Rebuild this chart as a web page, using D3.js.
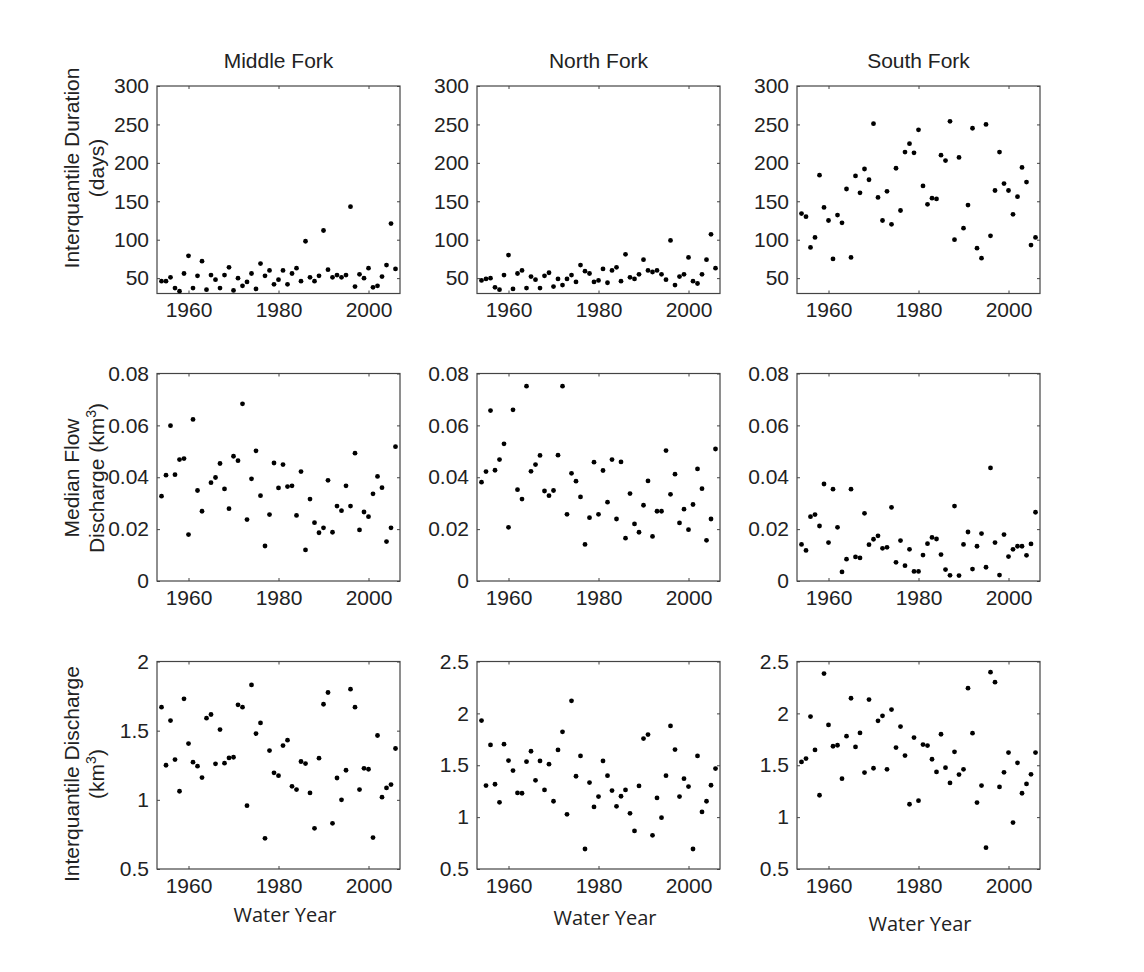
<!DOCTYPE html>
<html>
<head>
<meta charset="utf-8">
<script src="https://cdn.jsdelivr.net/npm/d3@7"></script>
<style>
  body { margin: 0; background: #fff; }
  text { font-family: "Liberation Sans", Arial, sans-serif; fill: #222; }
</style>
</head>
<body>
<script>
 // water years (x categories)
 const years = [1954,1955,1956,1957,1958,1959,1960,1961,1962,1963,
                1964,1965,1966,1967,1968,1969,1970,1971,1972,1973,
                1974,1975,1976,1977,1978,1979,1980,1981,1982,1983,
                1984,1985,1986,1987,1988,1989,1990,1991,1992,1993,
                1994,1995,1996,1997,1998,1999,2000,2001,2002,2003,
                2004,2005,2006];

 // interquantile duration (days)
 const mfDuration = [46,46,51,37,33,56,79,37,53,72, 35,54,48,37,54,64,34,50,40,45,
                     56,36,69,53,60,42,48,60,42,56, 63,46,98,51,46,53,112,61,51,54,
                     51,54,143,39,55,50,63,38,40,52, 67,121,62];
 const nfDuration = [47,49,50,38,35,54,80,36,56,60, 37,52,48,37,53,57,39,49,41,49,
                     54,45,67,59,56,45,47,62,44,60, 64,46,81,51,49,55,74,60,58,60,
                     55,48,99,41,52,55,77,46,43,55, 74,107,63];
 const sfDuration = [134,130,90,103,184,142,125,75,132,122, 166,77,183,161,192,178,251,155,125,163,
                     120,193,138,214,225,213,243,170,146,154, 153,210,203,254,100,207,115,145,245,89,
                     76,250,105,164,214,173,164,133,156,194, 175,93,103];

 // median flow discharge (km3)
 const mfMedian = [.0327,.0408,.0599,.0410,.0468,.0472,.0179,.0623,.0349,.0269,
                   null,.0379,.0399,.0453,.0355,.0279,.0481,.0464,.0683,.0237,
                   .0394,.0502,.0329,.0135,.0256,.0455,.0359,.0449,.0364,.0367,
                   .0253,.0422,.0120,.0316,.0225,.0186,.0205,.0388,.0188,.0289,
                   .0271,.0367,.0289,.0493,.0197,.0266,.0248,.0336,.0403,.0360,
                   .0152,.0205,.0518];
 const nfMedian = [.0381,.0422,.0657,.0427,.0468,.0529,.0207,.0660,.0352,.0316,
                   .0751,.0423,.0449,.0484,.0347,.0329,.0349,.0485,.0751,.0257,
                   .0415,.0385,.0324,.0141,.0244,.0458,.0257,.0426,.0304,.0468,
                   .0239,.0459,.0165,.0337,.0220,.0188,.0292,.0386,.0172,.0269,
                   .0269,.0503,.0334,.0412,.0224,.0277,.0198,.0295,.0432,.0356,
                   .0157,.0239,.0509];
 const sfMedian = [.0141,.0118,.0248,.0256,.0212,.0374,.0148,.0354,.0207,.0035,
                   .0084,.0354,.0093,.0089,.0261,.0140,.0161,.0174,.0126,.0130,
                   .0284,.0072,.0156,.0059,.0122,.0037,.0037,.0100,.0144,.0168,
                   .0162,.0102,.0044,.0022,.0289,.0021,.0141,.0189,.0046,.0134,
                   .0183,.0053,.0436,.0148,.0023,.0179,.0094,.0122,.0134,.0134,
                   .0099,.0143,.0265];

 // interquantile discharge (km3)
 const mfIQ = [1.670,1.250,1.573,1.291,1.062,1.730,1.407,1.272,1.243,1.161,
               1.590,1.617,1.260,1.508,1.265,1.303,1.308,1.687,1.670,0.958,
               1.831,1.479,1.556,0.722,1.356,1.195,1.175,1.392,1.431,1.098,
               1.074,1.277,1.262,1.050,0.794,1.301,1.691,1.776,0.830,1.158,
               1.000,1.214,1.800,1.670,1.074,1.228,1.221,0.727,1.465,1.019,
               1.086,1.110,1.371];
 const nfIQ = [1.931,1.304,1.696,1.317,1.143,1.703,1.545,1.449,1.233,1.230,
               1.535,1.635,1.355,1.542,1.262,1.510,1.153,1.648,1.822,1.027,
               2.121,1.394,1.590,0.693,1.333,1.098,1.198,1.542,1.400,1.256,
               1.104,1.201,1.262,1.037,0.867,1.301,1.757,1.796,0.825,1.185,
               0.995,1.400,1.879,1.651,1.198,1.371,1.294,0.693,1.590,1.050,
               1.153,1.307,1.468];
 const sfIQ = [1.532,1.564,1.969,1.648,1.211,2.384,1.889,1.683,1.693,1.371,
               1.780,2.146,1.677,1.812,1.429,2.133,1.471,1.928,1.976,1.461,
               2.037,1.670,1.873,1.593,1.124,1.767,1.159,1.699,1.690,1.558,
               1.436,1.799,1.477,1.330,1.629,1.410,1.461,2.243,1.809,1.140,
               1.304,0.706,2.397,2.301,1.291,1.432,1.622,0.947,1.523,1.230,
               1.320,1.413,1.622];

 // titles, axis domains and tick labels
 const forks = ['Middle Fork', 'North Fork', 'South Fork'];
 const xDomain = [1953, 2007];
 const xTicks = [1960, 1980, 2000];
 const durDomain = [30, 300];
 const durTicks = [50, 100, 150, 200, 250, 300];
 const medDomain = [0, 0.08];
 const medTicks = [0, 0.02, 0.04, 0.06, 0.08];
 const mfIQDomain = [0.5, 2];
 const mfIQTicks = [0.5, 1, 1.5, 2];
 const iqDomain = [0.5, 2.5];
 const iqTicks = [0.5, 1, 1.5, 2, 2.5];

 const rows = [
   { label: ['Interquantile Duration', '(days)'], labelY: 168,
     series: [mfDuration, nfDuration, sfDuration],
     domains: [durDomain, durDomain, durDomain], ticks: [durTicks, durTicks, durTicks] },
   { label: ['Median Flow', 'Discharge (km|3|)'], labelY: 478,
     series: [mfMedian, nfMedian, sfMedian],
     domains: [medDomain, medDomain, medDomain], ticks: [medTicks, medTicks, medTicks] },
   { label: ['Interquantile Discharge', '(km|3|)'], labelY: 774,
     series: [mfIQ, nfIQ, sfIQ],
     domains: [mfIQDomain, iqDomain, iqDomain], ticks: [mfIQTicks, iqTicks, iqTicks] }
 ];

 // layout constants
 const width = 1144, height = 972;
 const colLeft = [157, 477, 797];
 const rowTop = [86, 373.5, 661.5];
 const pw = 243, ph = 207.5;
 const fs = 21;

 const svg = d3.select('body').append('svg')
       .attr('width', width).attr('height', height);
 svg.append('rect').attr('width', width).attr('height', height).attr('fill', '#fff');

 // column titles
 svg.selectAll('.title').data(forks).enter().append('text')
    .attr('class', 'title')
    .attr('x', (d, i) => colLeft[i] + pw / 2).attr('y', 68)
    .attr('text-anchor', 'middle').style('font-size', fs + 'px')
    .text(d => d);

 const fmt = v => String(v);

 rows.forEach((row, r) => {
   // y labels, two lines rotated
   const yl = svg.append('text')
       .attr('transform', `translate(0, ${row.labelY}) rotate(-90)`)
       .attr('text-anchor', 'middle').style('font-size', fs + 'px');
   row.label.forEach((line, k) => {
     const t = yl.append('tspan').attr('x', 0).attr('y', k == 0 ? 79 : 104);
     line.split('|').forEach((part, j) => {
       if (j == 1) t.append('tspan').attr('dy', -8).style('font-size', '14px').text(part);
       else if (j == 2) t.append('tspan').attr('dy', 8).text(part);
       else t.append('tspan').text(part);
     });
   });

   row.series.forEach((vals, c) => {
     const g = svg.append('g').attr('transform', `translate(${colLeft[c]}, ${rowTop[r]})`);
     const x = d3.scaleLinear().domain(xDomain).range([0, pw]);
     const y = d3.scaleLinear().domain(row.domains[c]).range([ph, 0]);

     // axes: labels on left/bottom, inward ticks on all four sides
     g.append('g').call(d3.axisLeft(y).tickValues(row.ticks[c]).tickFormat(fmt).tickSize(-3).tickPadding(8))
      .call(a => a.select('.domain').remove());
     g.append('g').attr('transform', `translate(${pw},0)`)
      .call(d3.axisRight(y).tickValues(row.ticks[c]).tickFormat('').tickSize(-3))
      .call(a => a.select('.domain').remove());
     g.append('g').attr('transform', `translate(0,${ph})`)
      .call(d3.axisBottom(x).tickValues(xTicks).tickFormat(fmt).tickSize(-3).tickPadding(9))
      .call(a => a.select('.domain').remove());
     g.append('g')
      .call(d3.axisTop(x).tickValues(xTicks).tickFormat('').tickSize(-3))
      .call(a => a.select('.domain').remove());
     g.selectAll('.tick text').style('font-size', fs + 'px').style('font-family', '"Liberation Sans", Arial, sans-serif').attr('fill', '#222');
     g.selectAll('.tick line').attr('stroke', '#444');

     g.append('rect').attr('width', pw).attr('height', ph)
      .attr('fill', 'none').attr('stroke', '#444').attr('stroke-width', 1.2);

     const pts = years.map((yr, i) => ({ year: yr, v: vals[i] })).filter(d => d.v != null);
     g.append('g').selectAll('circle').data(pts).enter().append('circle')
      .attr('cx', d => x(d.year)).attr('cy', d => y(d.v))
      .attr('r', 2.4).attr('fill', '#000');
   });
 });

 // x axis titles
 const xlab = [[285, 922], [605, 925], [920, 931]];
 svg.selectAll('.xlab').data(xlab).enter().append('text')
    .attr('x', d => d[0]).attr('y', d => d[1])
    .attr('text-anchor', 'middle')
    .style('font-family', '"Open Sans", "Noto Sans", sans-serif').style('font-size', '20px')
    .text('Water Year');
</script>
</body>
</html>
